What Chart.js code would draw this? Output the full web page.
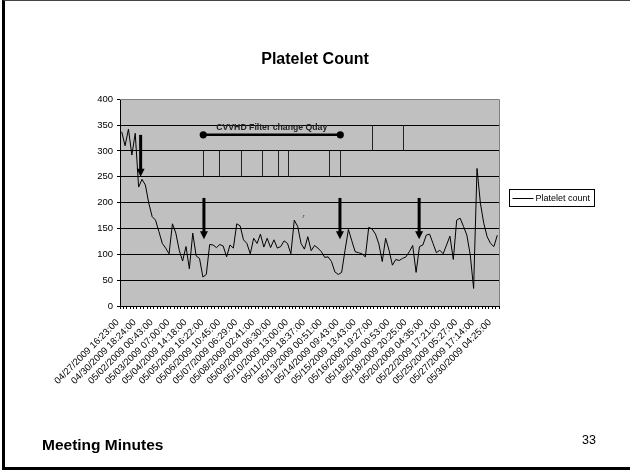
<!DOCTYPE html>
<html>
<head>
<meta charset="utf-8">
<script src="https://cdn.jsdelivr.net/npm/chart.js@4/dist/chart.umd.min.js"></script>
<style>
  html, body { margin: 0; padding: 0; background: #fff; }
  #slide { position: relative; width: 630px; height: 471px; overflow: hidden; font-family: Arial, "Liberation Sans", sans-serif; }
  #frame { position: absolute; left: 2px; top: 0; width: 700px; height: 470px; box-sizing: border-box;
           border-left: 3px solid #000; border-top: 1px solid #444; border-bottom: 3px solid #000; }
  #chart { position: absolute; left: 0; top: 0; }
  #footer { position: absolute; left: 42px; top: 437px; font-size: 15.5px; font-weight: bold; line-height: 1; }
  #pageNo { position: absolute; left: 582px; top: 434px; font-size: 12.5px; line-height: 1; }
</style>
</head>
<body>
<div id="slide">
  <div id="frame"></div>
  <canvas id="chart" width="630" height="471"></canvas>
  <div id="footer">Meeting Minutes</div>
  <div id="pageNo">33</div>
</div>
<script>
const tickLabels = [
  "04/27/2009 16:23:00", "04/30/2009 18:24:00", "05/02/2009 00:43:00", "05/03/2009 07:00:00",
  "05/04/2009 14:18:00", "05/05/2009 16:22:00", "05/06/2009 10:45:00", "05/07/2009 06:29:00",
  "05/08/2009 02:41:00", "05/09/2009 06:30:00", "05/10/2009 13:00:00", "05/11/2009 18:37:00",
  "05/13/2009 00:51:00", "05/14/2009 09:43:00", "05/15/2009 13:43:00", "05/16/2009 19:27:00",
  "05/18/2009 00:53:00", "05/18/2009 20:25:00", "05/20/2009 04:35:00", "05/22/2009 17:21:00",
  "05/25/2009 05:27:00", "05/27/2009 17:14:00", "05/30/2009 04:25:00"
];
const labelEvery = 5; // one date label per 5 samples

const plateletCount = [
  337, 310, 342, 292, 334, 230, 245, 234, 199, 173,
  166, 144, 121, 112, 101, 159, 141, 108, 87, 115,
  72, 141, 97, 92, 56, 61, 119, 118, 113, 119,
  116, 95, 118, 112, 159, 155, 128, 121, 101, 131,
  121, 139, 114, 131, 113, 128, 112, 115, 126, 121,
  101, 166, 154, 121, 110, 134, 107, 117, 112, 105,
  94, 95, 86, 66, 61, 65, 108, 148, 126, 105,
  103, 101, 95, 152, 149, 139, 120, 86, 131, 108,
  79, 90, 88, 92, 95, 105, 117, 65, 115, 118,
  137, 139, 121, 103, 108, 101, 118, 135, 90, 166,
  170, 154, 137, 99, 34, 266, 199, 160, 134, 121,
  115, 137
];
const sampleIndex = plateletCount.map((v, i) => i);

const yTicks = [0, 50, 100, 150, 200, 250, 300, 350, 400];

// hand drawn notes on the chart, in sample index / count units
const arrowAt = [5.6, 24.3, 64.5, 87.9];
const arrowFrom = [331, 209, 209, 209];
const arrowTo = [250, 129, 129, 129];

const filterSpan = [24.1, 64.6];
const filterSpanLevel = 331;
const filterSpanText = "CVVHD Filter change Qday";
const filterMarksLow = [24.1, 28.8, 35.2, 41.4, 46.1, 49.1, 61.4, 64.6]; // 250..300
const filterMarksHigh = [73.9, 83.2]; // 300..350
const strayMark = { at: 53.7, value: 173, text: "r" };

const fontFamily = 'Arial, "Liberation Sans", sans-serif';

const slideDecor = {
  id: "slideDecor",
  beforeDraw(chart) {
    const { ctx, chartArea: a } = chart;
    ctx.save();
    ctx.fillStyle = "#c0c0c0";
    ctx.fillRect(a.left, a.top, a.right - a.left, a.bottom - a.top);
    ctx.restore();
  },
  beforeDatasetsDraw(chart) {
    const { ctx, chartArea: a } = chart;
    ctx.save();
    ctx.strokeStyle = "#808080";
    ctx.lineWidth = 1;
    ctx.beginPath();
    ctx.moveTo(a.left, Math.round(a.top) + 0.5);
    ctx.lineTo(Math.round(a.right) + 0.5, Math.round(a.top) + 0.5);
    ctx.lineTo(Math.round(a.right) + 0.5, a.bottom);
    ctx.stroke();
    ctx.restore();
  },
  afterDatasetsDraw(chart) {
    const { ctx, scales: { x, y } } = chart;
    ctx.save();

    // filter change marks
    ctx.strokeStyle = "#222";
    ctx.lineWidth = 1;
    const mark = (at, lo, hi) => {
      const px = Math.round(x.getPixelForValue(at)) + 0.5;
      ctx.beginPath();
      ctx.moveTo(px, y.getPixelForValue(lo));
      ctx.lineTo(px, y.getPixelForValue(hi));
      ctx.stroke();
    };
    filterMarksLow.forEach(at => mark(at, 250, 300));
    filterMarksHigh.forEach(at => mark(at, 300, 350));

    // CVVHD bracket
    const x0 = x.getPixelForValue(filterSpan[0]);
    const x1 = x.getPixelForValue(filterSpan[1]);
    const ly = y.getPixelForValue(filterSpanLevel);
    ctx.strokeStyle = "#000";
    ctx.lineWidth = 2.5;
    ctx.beginPath();
    ctx.moveTo(x0, ly);
    ctx.lineTo(x1, ly);
    ctx.stroke();
    ctx.fillStyle = "#000";
    [x0, x1].forEach(px => {
      ctx.beginPath();
      ctx.arc(px, ly, 3.6, 0, Math.PI * 2);
      ctx.fill();
    });
    ctx.font = "bold 8.7px " + fontFamily;
    ctx.textAlign = "center";
    ctx.textBaseline = "middle";
    ctx.fillStyle = "#222";
    ctx.fillText(filterSpanText, (x0 + x1) / 2, ly - 7);

    // arrows
    ctx.fillStyle = "#000";
    ctx.strokeStyle = "#000";
    arrowAt.forEach((at, i) => {
      const px = x.getPixelForValue(at);
      const top = y.getPixelForValue(arrowFrom[i]);
      const tip = y.getPixelForValue(arrowTo[i]);
      ctx.lineWidth = 3;
      ctx.beginPath();
      ctx.moveTo(px, top);
      ctx.lineTo(px, tip - 7);
      ctx.stroke();
      ctx.beginPath();
      ctx.moveTo(px - 4, tip - 8);
      ctx.lineTo(px + 4, tip - 8);
      ctx.lineTo(px, tip);
      ctx.closePath();
      ctx.fill();
    });

    ctx.font = "italic 6px " + fontFamily;
    ctx.fillStyle = "#333";
    ctx.fillText(strayMark.text, x.getPixelForValue(strayMark.at), y.getPixelForValue(strayMark.value));
    ctx.restore();
  },
  afterDraw(chart) {
    // legend box to the right of the plot
    const { ctx, chartArea: a } = chart;
    const ds = chart.data.datasets[0];
    ctx.save();
    ctx.font = "9px " + fontFamily;
    const tw = ctx.measureText(ds.label).width;
    const left = Math.round(a.right) + 10.5;
    const cy = Math.round((a.top + a.bottom) / 2) - 5;
    const w = Math.round(tw + 30);
    ctx.strokeStyle = "#000";
    ctx.lineWidth = 1;
    ctx.strokeRect(left, cy - 8.5, w, 17);
    ctx.beginPath();
    ctx.moveTo(left + 3, cy + 0.5);
    ctx.lineTo(left + 24, cy + 0.5);
    ctx.strokeStyle = ds.borderColor;
    ctx.stroke();
    ctx.fillStyle = "#000";
    ctx.textBaseline = "middle";
    ctx.fillText(ds.label, left + 26, cy + 0.5);
    ctx.restore();
  }
};

new Chart(document.getElementById("chart"), {
  type: "line",
  data: {
    labels: sampleIndex,
    datasets: [{
      label: "Platelet count",
      data: plateletCount,
      borderColor: "#000",
      borderWidth: 1,
      pointRadius: 0,
      tension: 0,
      fill: false
    }]
  },
  options: {
    responsive: false,
    animation: false,
    devicePixelRatio: 1,
    layout: { padding: 0 },
    plugins: {
      legend: { display: false },
      tooltip: { enabled: false },
      title: {
        display: true,
        text: "Platelet Count",
        color: "#000",
        font: { family: fontFamily, size: 16, weight: "bold" },
        padding: { top: 50, bottom: 30 }
      }
    },
    scales: {
      x: {
        type: "category",
        offset: true,
        afterFit: s => { s.height = 165; },
        border: { display: true, color: "#000", width: 1 },
        grid: { drawOnChartArea: false, drawTicks: true, tickLength: 3, tickColor: "#000", offset: true },
        ticks: {
          autoSkip: false,
          maxRotation: 45,
          minRotation: 45,
          padding: 8,
          labelOffset: -4,
          color: "#000",
          font: { family: fontFamily, size: 9.5 },
          callback: (value, index) => index % labelEvery === 0 ? tickLabels[index / labelEvery] : ""
        }
      },
      y: {
        min: yTicks[0],
        max: yTicks[yTicks.length - 1],
        afterFit: s => { s.width = 120; },
        afterBuildTicks: s => { s.ticks = yTicks.map(v => ({ value: v })); },
        border: { display: true, color: "#000", width: 1 },
        grid: {
          color: c => c.tick && c.tick.value === 400 ? "#808080" : "#000",
          tickColor: "#000",
          tickLength: 3,
          lineWidth: 1
        },
        ticks: {
          padding: 4,
          color: "#000",
          font: { family: fontFamily, size: 9.5 }
        }
      },
      // empty strip on the right that holds the legend
      legendSpace: {
        type: "linear",
        position: "right",
        afterFit: s => { s.width = 131; },
        border: { display: false },
        grid: { display: false },
        ticks: { display: false }
      }
    }
  },
  plugins: [slideDecor]
});
</script>
</body>
</html>
